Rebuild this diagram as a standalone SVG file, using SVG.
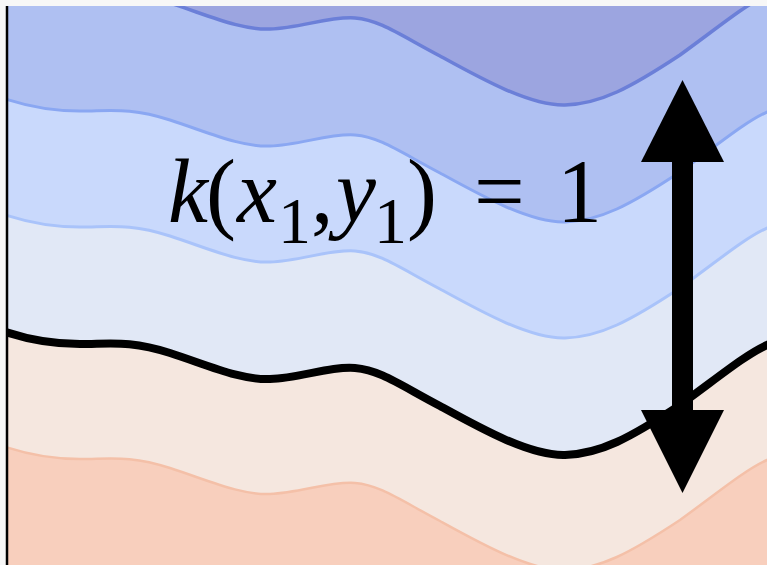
<svg xmlns="http://www.w3.org/2000/svg" xmlns:xlink="http://www.w3.org/1999/xlink" width="767" height="565" viewBox="0 0 767 565">
  <style>
    .edge { fill: none; stroke-linejoin: round; }
  </style>
  <defs>
    <path id="wave" d="M 0 330 C 25 339, 50 344, 80 344 C 110 344, 130 340, 170 353 C 210 366, 240 380, 270 379 C 300 378, 330 366, 355 368 C 380 370, 400 385, 440 406 C 480 428, 530 456, 565 455 C 600 454, 630 438, 680 405 C 720 376, 745 355, 767 345 L 780 338"/>
    <path id="waveArea" d="M -10 326 L 0 330 C 25 339, 50 344, 80 344 C 110 344, 130 340, 170 353 C 210 366, 240 380, 270 379 C 300 378, 330 366, 355 368 C 380 370, 400 385, 440 406 C 480 428, 530 456, 565 455 C 600 454, 630 438, 680 405 C 720 376, 745 355, 767 345 L 780 338 L 780 -600 L -10 -600 Z"/>
    <clipPath id="plot">
      <rect x="8" y="6" width="760" height="560"/>
    </clipPath>
  </defs>
  <rect x="0" y="0" width="767" height="565" fill="#f7f7f7"/>
  <g id="bands" clip-path="url(#plot)">
    <rect x="0" y="0" width="767" height="565" fill="#f8cfbd"/>
    <use xlink:href="#waveArea" transform="translate(0,115)" fill="#f5e7df"/>
    <use xlink:href="#waveArea" fill="#e1e8f6"/>
    <use xlink:href="#waveArea" transform="translate(0,-117)" fill="#c9d9fc"/>
    <use xlink:href="#waveArea" transform="translate(0,-233)" fill="#afc0f2"/>
    <use xlink:href="#waveArea" transform="translate(0,-350)" fill="#9ca5e0"/>
    <use xlink:href="#wave" class="edge" transform="translate(0,115)" stroke="#f4c0a8" stroke-width="2.5"/>
    <use xlink:href="#wave" class="edge" transform="translate(0,-117)" stroke="#a9c3fa" stroke-width="3"/>
    <use xlink:href="#wave" class="edge" transform="translate(0,-233)" stroke="#8aa7f2" stroke-width="3"/>
    <use xlink:href="#wave" class="edge" transform="translate(0,-350)" stroke="#6b7fd8" stroke-width="3.5"/>
    <use xlink:href="#wave" class="edge" stroke="#000" stroke-width="8"/>
  </g>
  <line id="axis" x1="7" y1="6" x2="7" y2="565" stroke="#000" stroke-width="2.5"/>
  <g id="label" font-family="Times New Roman, Liberation Serif, serif" font-size="90" fill="#000">
    <text y="222"><tspan font-style="italic" x="168">k</tspan><tspan x="206">(</tspan><tspan font-style="italic" x="237">x</tspan><tspan font-size="66" x="278" y="243">1</tspan><tspan x="311" y="222">,</tspan><tspan font-style="italic" x="336">y</tspan><tspan font-size="66" x="374" y="243">1</tspan><tspan x="407" y="222">)</tspan><tspan x="474">=</tspan><tspan x="557">1</tspan></text>
  </g>
  <g id="connectors">
    <path d="M 682.5 162 L 682.5 410" stroke="#000" stroke-width="21" fill="none"/>
    <path d="M 682.5 80 L 724 162 L 641 162 Z" fill="#000"/>
    <path d="M 682.5 493 L 724 410 L 641 410 Z" fill="#000"/>
  </g>
</svg>
